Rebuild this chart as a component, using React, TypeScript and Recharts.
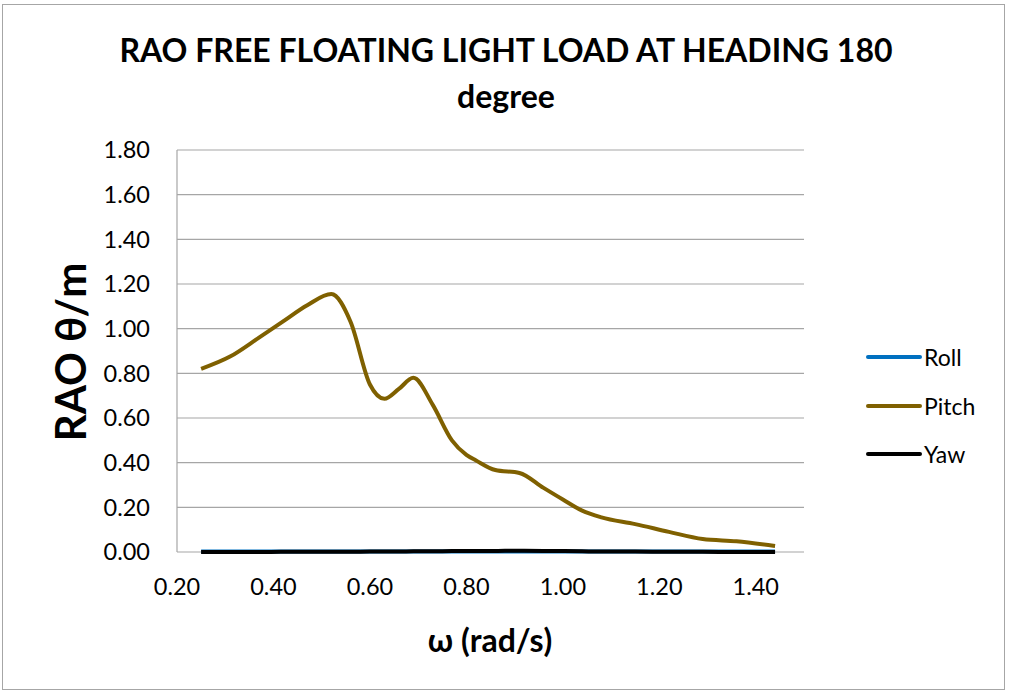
import React from 'react';
import { LineChart, Line, XAxis, YAxis, CartesianGrid } from 'recharts';

const omega = [0.25, 0.31, 0.37, 0.42, 0.47, 0.52, 0.56, 0.6, 0.63, 0.66, 0.69, 0.73, 0.77, 0.8, 0.82, 0.86, 0.91, 0.96, 1.0, 1.04, 1.08, 1.15, 1.22, 1.29, 1.36, 1.44];
const roll = [0.002, 0.002, 0.002, 0.002, 0.002, 0.002, 0.002, 0.002, 0.002, 0.002, 0.002, 0.002, 0.002, 0.002, 0.002, 0.002, 0.002, 0.002, 0.002, 0.002, 0.002, 0.002, 0.002, 0.002, 0.002, 0.002];
const pitch = [0.82, 0.875, 0.96, 1.033, 1.105, 1.155, 1.03, 0.75, 0.686, 0.73, 0.78, 0.66, 0.5, 0.435, 0.41, 0.367, 0.354, 0.287, 0.235, 0.185, 0.155, 0.125, 0.09, 0.058, 0.048, 0.027];
const yaw = [0.0, 0.0, 0.0, 0.001, 0.001, 0.001, 0.001, 0.002, 0.002, 0.002, 0.003, 0.003, 0.004, 0.004, 0.005, 0.005, 0.006, 0.005, 0.004, 0.003, 0.002, 0.002, 0.001, 0.001, 0.0, 0.0];

const xTicks = [0.2, 0.4, 0.6, 0.8, 1.0, 1.2, 1.4];
const yTicks = [0, 0.2, 0.4, 0.6, 0.8, 1.0, 1.2, 1.4, 1.6, 1.8];

const seriesNames = ['Roll', 'Pitch', 'Yaw'];
const seriesColors = ['#0070C0', '#7F6000', '#000000'];

const rows = omega.map((w, i) => ({ omega: w, Roll: roll[i], Pitch: pitch[i], Yaw: yaw[i] }));

const FONT = 'Lato, "Open Sans", sans-serif';

const LegendBox = () => (
  <div style={{ position: 'absolute', left: 866, top: 333, fontFamily: FONT, fontSize: 23 }}>
    {seriesNames.map((name, i) => (
      <div key={name} style={{ display: 'flex', alignItems: 'center', height: 48.5 }}>
        <svg width={58} height={10}>
          <line x1={2} y1={5} x2={54} y2={5} stroke={seriesColors[i]} strokeWidth={4} strokeLinecap="round" />
        </svg>
        <span style={{ color: '#000' }}>{name}</span>
      </div>
    ))}
  </div>
);

export default function App() {
  return (
    <div style={{ position: 'absolute', left: 0, top: 0, width: 1012, height: 691, background: '#fff', fontFamily: FONT }}>
      <div style={{ position: 'absolute', left: 2, top: 4, width: 1001, height: 684, border: '1px solid #a6a6a6' }} />
      <div style={{ position: 'absolute', left: 0, top: 27, width: 1012, textAlign: 'center', fontWeight: 700, fontSize: 32, lineHeight: '46px', color: '#000' }}>
        RAO FREE FLOATING LIGHT LOAD AT HEADING 180
        <br />
        degree
      </div>
      <div style={{ position: 'absolute', left: 70, top: 352, transform: 'translate(-50%, -50%) rotate(-90deg)', fontWeight: 700, fontSize: 42, whiteSpace: 'nowrap', color: '#000' }}>
        RAO θ/m
      </div>
      <div style={{ position: 'absolute', left: 490, top: 639, transform: 'translate(-50%, -50%)', fontWeight: 700, fontSize: 32, whiteSpace: 'nowrap', color: '#000' }}>
        ω (rad/s)
      </div>
      <LineChart width={1012} height={691} data={rows} margin={{ top: 150, right: 208, bottom: 99, left: 117 }}>
        <CartesianGrid vertical={false} stroke="#a6a6a6" strokeWidth={1.2} />
        <XAxis
          dataKey="omega"
          type="number"
          domain={[0.2, 1.5]}
          ticks={xTicks}
          tickFormatter={(v: number) => v.toFixed(2)}
          axisLine={false}
          tickLine={false}
          tickMargin={20}
          height={40}
          tick={{ fontSize: 23.5, fill: '#000', fontFamily: FONT }}
        />
        <YAxis
          domain={[0, 1.8]}
          ticks={yTicks}
          tickFormatter={(v: number) => v.toFixed(2)}
          axisLine={{ stroke: '#a6a6a6', strokeWidth: 1.2 }}
          tickLine={false}
          tickMargin={21}
          width={60}
          tick={{ fontSize: 23.5, fill: '#000', fontFamily: FONT }}
        />
        {seriesNames.map((name, i) => (
          <Line
            key={name}
            type="monotone"
            dataKey={name}
            stroke={seriesColors[i]}
            strokeWidth={4}
            dot={false}
            isAnimationActive={false}
          />
        ))}
      </LineChart>
      <LegendBox />
    </div>
  );
}
